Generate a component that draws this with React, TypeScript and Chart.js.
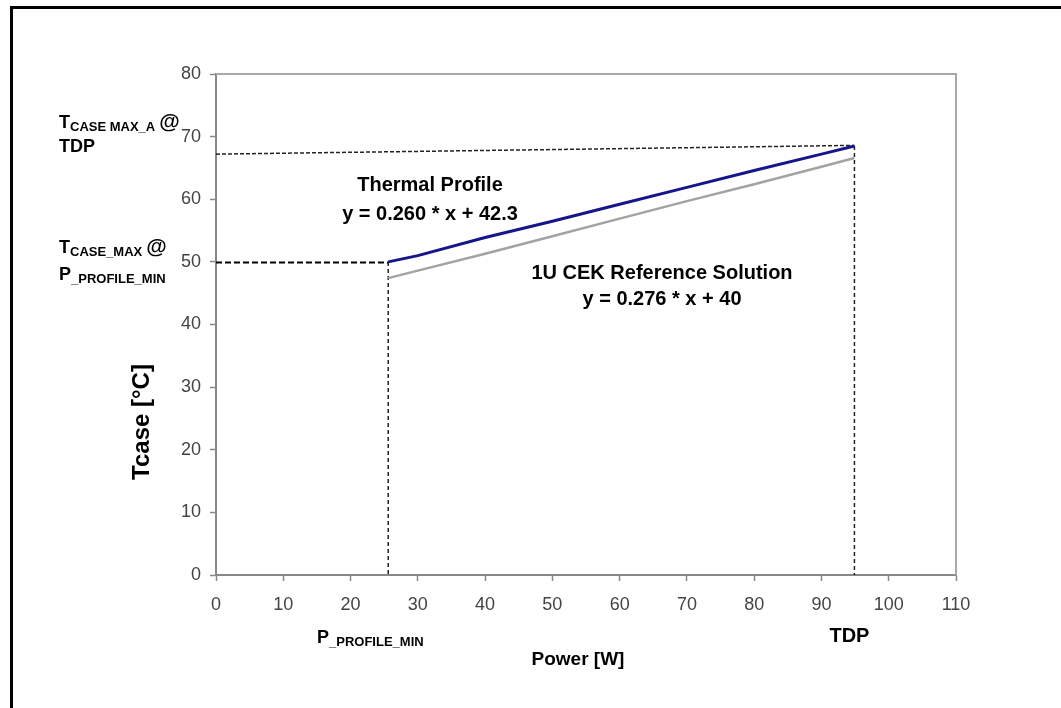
import React, { useEffect, useRef } from "react";
import { Chart, registerables } from "chart.js";

Chart.register(...registerables);

// ---- data ----
const powerPoints = [25.6, 30, 40, 50, 60, 70, 80, 90, 94.9];
const thermalProfile = [50.0, 51.0, 53.9, 56.5, 59.2, 61.9, 64.6, 67.2, 68.5];
const cekReference = [47.4, 48.6, 51.3, 54.1, 56.9, 59.7, 62.4, 65.2, 66.6];

const tdpGuideX = [0, 94.9];
const tdpGuideY = [67.2, 68.6];
const pminGuideX = [0, 25.6];
const pminGuideY = [49.9, 49.9];
const pminVertX = [25.6, 25.6];
const pminVertY = [50, 0];
const tdpVertX = [94.9, 94.9];
const tdpVertY = [68.5, 0];

const xTicks = [0, 10, 20, 30, 40, 50, 60, 70, 80, 90, 100, 110];
const yTicks = [0, 10, 20, 30, 40, 50, 60, 70, 80];

const FONT = "'Liberation Sans', Arial, Helvetica, sans-serif";

const pts = (xs: number[], ys: number[]) => xs.map((x, i) => ({ x, y: ys[i] }));

function subLabel(
  ctx: CanvasRenderingContext2D,
  x: number,
  y: number,
  main: string,
  sub: string,
  tail: string,
  mainSize: number,
  subSize: number,
  tailSize: number
) {
  ctx.textAlign = "left";
  ctx.textBaseline = "alphabetic";
  ctx.font = `bold ${mainSize}px ${FONT}`;
  ctx.fillText(main, x, y);
  let cx = x + ctx.measureText(main).width;
  ctx.font = `bold ${subSize}px ${FONT}`;
  ctx.fillText(sub, cx, y + 3);
  cx += ctx.measureText(sub).width;
  if (tail) {
    ctx.font = `bold ${tailSize}px ${FONT}`;
    ctx.fillText(tail, cx + 4, y);
  }
}

const annotationPlugin = {
  id: "annotations",
  beforeDatasetsDraw(chart: any) {
    const { ctx, chartArea } = chart;
    ctx.save();
    ctx.strokeStyle = "#a8a8a8";
    ctx.lineWidth = 2;
    ctx.beginPath();
    ctx.moveTo(chartArea.left, chartArea.top);
    ctx.lineTo(chartArea.right, chartArea.top);
    ctx.lineTo(chartArea.right, chartArea.bottom);
    ctx.stroke();
    ctx.restore();
  },
  afterDraw(chart: any) {
    const { ctx } = chart;
    const xs = chart.scales.x;
    ctx.save();
    ctx.fillStyle = "#000";

    // equations
    ctx.textAlign = "center";
    ctx.textBaseline = "alphabetic";
    ctx.font = `bold 20px ${FONT}`;
    ctx.fillText("Thermal Profile", 430, 191);
    ctx.fillText("y = 0.260 * x + 42.3", 430, 220);
    ctx.fillText("1U CEK Reference Solution", 662, 279);
    ctx.fillText("y = 0.276 * x + 40", 662, 305);

    // left labels
    subLabel(ctx, 59, 128, "T", "CASE MAX_A", "@", 18, 13, 21);
    ctx.font = `bold 18px ${FONT}`;
    ctx.textAlign = "left";
    ctx.fillText("TDP", 59, 152);
    subLabel(ctx, 59, 253, "T", "CASE_MAX", "@", 18, 13, 21);
    subLabel(ctx, 59, 280, "P", "_PROFILE_MIN", "", 18, 13, 18);

    // bottom labels
    subLabel(ctx, 317, 643, "P", "_PROFILE_MIN", "", 18, 13, 18);
    ctx.font = `bold 19px ${FONT}`;
    ctx.textAlign = "center";
    ctx.fillText("Power [W]", 578, 665);
    ctx.font = `bold 20px ${FONT}`;
    ctx.fillText("TDP", xs.getPixelForValue(tdpVertX[0]) - 5, 642);

    // y title
    ctx.translate(142, 422);
    ctx.rotate(-Math.PI / 2);
    ctx.font = `bold 24px ${FONT}`;
    ctx.textAlign = "center";
    ctx.textBaseline = "middle";
    ctx.fillText("Tcase [°C]", 0, 0);
    ctx.restore();
  },
};

export default function App() {
  const ref = useRef<HTMLCanvasElement | null>(null);
  useEffect(() => {
    if (!ref.current) return;
    const chart = new Chart(ref.current, {
      type: "line",
      data: {
        datasets: [
          {
            label: "Thermal Profile",
            data: pts(powerPoints, thermalProfile),
            borderColor: "#16168a",
            borderWidth: 3,
            pointRadius: 0,
            tension: 0,
          },
          {
            label: "1U CEK Reference Solution",
            data: pts(powerPoints, cekReference),
            borderColor: "#a3a3a3",
            borderWidth: 2.5,
            pointRadius: 0,
            tension: 0,
          },
          {
            label: "TDP guide",
            data: pts(tdpGuideX, tdpGuideY),
            borderColor: "#222",
            borderWidth: 1.5,
            borderDash: [4, 2],
            pointRadius: 0,
          },
          {
            label: "Pmin guide",
            data: pts(pminGuideX, pminGuideY),
            borderColor: "#000",
            borderWidth: 2,
            borderDash: [6, 3],
            pointRadius: 0,
          },
          {
            label: "Pmin vertical",
            data: pts(pminVertX, pminVertY),
            borderColor: "#222",
            borderWidth: 1.5,
            borderDash: [4, 3],
            pointRadius: 0,
          },
          {
            label: "TDP vertical",
            data: pts(tdpVertX, tdpVertY),
            borderColor: "#222",
            borderWidth: 1.5,
            borderDash: [4, 3],
            pointRadius: 0,
          },
        ],
      },
      options: {
        responsive: false,
        animation: false,
        layout: { padding: { left: 0, right: 105, top: 74, bottom: 0 } },
        plugins: {
          legend: { display: false },
          tooltip: { enabled: false },
        },
        scales: {
          x: {
            type: "linear",
            min: 0,
            max: 110,
            afterFit: (s: any) => {
              s.height = 133;
            },
            afterBuildTicks: (s: any) => {
              s.ticks = xTicks.map((v) => ({ value: v }));
            },
            grid: {
              drawOnChartArea: false,
              tickLength: 6,
              tickColor: "#888",
              tickWidth: 1.5,
            },
            border: { display: true, color: "#888", width: 2 },
            ticks: {
              color: "#444",
              padding: 13,
              maxRotation: 0,
              font: { family: FONT, size: 18 },
            },
          },
          y: {
            type: "linear",
            min: 0,
            max: 80,
            afterFit: (s: any) => {
              s.width = 216;
            },
            afterBuildTicks: (s: any) => {
              s.ticks = yTicks.map((v) => ({ value: v }));
            },
            grid: {
              drawOnChartArea: false,
              tickLength: 6,
              tickColor: "#888",
              tickWidth: 1.5,
            },
            border: { display: true, color: "#888", width: 2 },
            ticks: {
              color: "#444",
              padding: 9,
              font: { family: FONT, size: 18 },
            },
          },
        },
      },
      plugins: [annotationPlugin],
    });
    return () => chart.destroy();
  }, []);

  return (
    <div
      style={{
        position: "fixed",
        left: 0,
        top: 0,
        width: 1061,
        height: 708,
        background: "#fff",
        overflow: "hidden",
      }}
    >
      <canvas ref={ref} width={1061} height={708} style={{ display: "block" }} />
      <div
        style={{
          position: "absolute",
          left: 10,
          top: 6,
          right: -10,
          bottom: -10,
          borderLeft: "3px solid #000",
          borderTop: "3px solid #000",
          pointerEvents: "none",
        }}
      />
    </div>
  );
}
